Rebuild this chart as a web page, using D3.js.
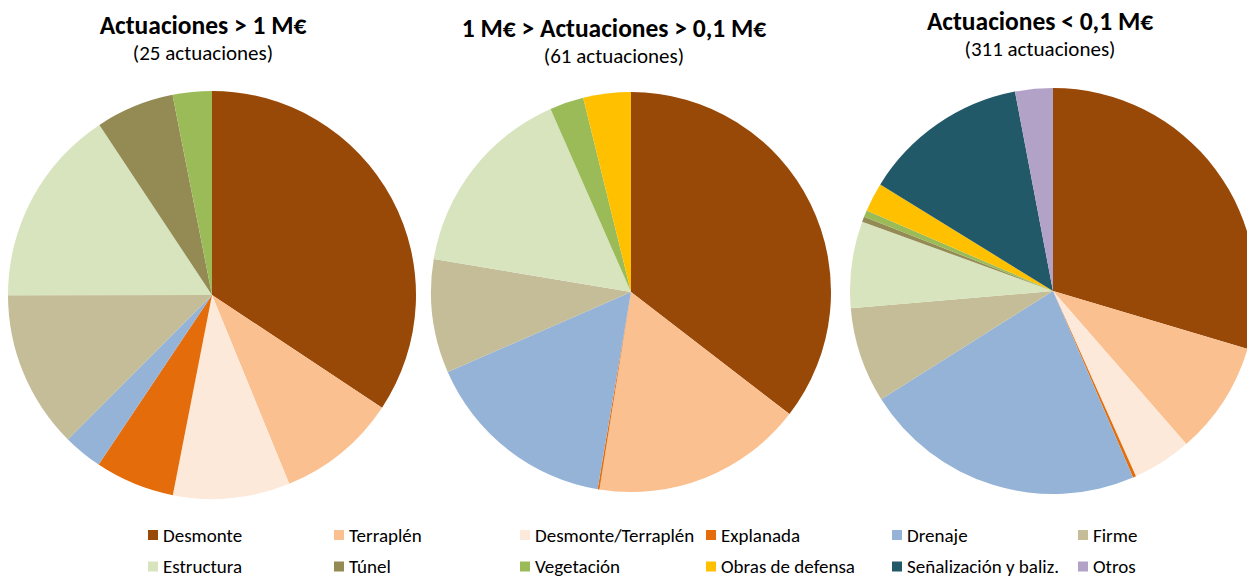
<!DOCTYPE html>
<html>
<head>
<meta charset="utf-8">
<script src="https://cdn.jsdelivr.net/npm/d3@7"></script>
<style>
  body { margin: 0; background: #fff; }
  svg { display: block; font-family: Calibri, Carlito, Lato, sans-serif; }
</style>
</head>
<body>
<div id="chart"></div>
<script>
// categories, in legend / slice order
var categories = ["Desmonte", "Terraplén", "Desmonte/Terraplén", "Explanada", "Drenaje", "Firme",
    "Estructura", "Túnel", "Vegetación", "Obras de defensa", "Señalización y baliz.", "Otros"];
var colors = ["#984807", "#FAC090", "#FDE9D9", "#E46C0A", "#95B3D7", "#C4BD97",
    "#D7E4BD", "#948A54", "#9BBB59", "#FFC000", "#215968", "#B3A2C7"];

// share of each category (%)
var valuesBig = [34.3, 9.5, 9.25, 6.3, 3.1, 12.5, 15.7, 6.2, 3.1, 0, 0, 0];
var valuesMid = [35.5, 17.1, 0, 0.15, 15.8, 9.2, 15.8, 0, 2.75, 3.85, 0, 0];
var valuesSmall = [29.6, 9.0, 4.7, 0.25, 22.5, 7.6, 6.9, 0.4, 0.55, 2.3, 13.2, 3.0];

var titles = ["Actuaciones > 1 M€", "1 M€ > Actuaciones > 0,1 M€", "Actuaciones < 0,1 M€"];
var subtitles = ["(25 actuaciones)", "(61 actuaciones)", "(311 actuaciones)"];

var width = 1247,
    height = 579;

// layout of the three pies
var pies = [
    { values: valuesBig, cx: 212, cy: 295, r: 204, tx: 203, ty: 34 },
    { values: valuesMid, cx: 631, cy: 292, r: 200, tx: 614, ty: 37 },
    { values: valuesSmall, cx: 1053, cy: 291, r: 203, tx: 1040, ty: 30 }
];

var svg = d3.select("#chart")
    .append("svg")
    .attr("width", width)
    .attr("height", height);

var color = d3.scaleOrdinal().domain(categories).range(colors);

var pie = d3.pie()
    .sort(null)
    .value(function (d) { return d.value; });

pies.forEach(function (p, i) {
    var data = categories.map(function (c, j) {
        return { name: c, value: p.values[j] };
    });
    var arc = d3.arc().innerRadius(0).outerRadius(p.r);

    var g = svg.append("g")
        .attr("transform", "translate(" + p.cx + "," + p.cy + ")");

    g.selectAll("path")
        .data(pie(data).filter(function (d) { return d.data.value > 0; }))
        .enter()
        .append("path")
        .attr("d", arc)
        .attr("fill", function (d) { return color(d.data.name); });

    // titles
    svg.append("text")
        .attr("x", p.tx)
        .attr("y", p.ty)
        .attr("text-anchor", "middle")
        .attr("font-weight", "bold")
        .attr("font-size", "25.5px")
        .attr("fill", "#000")
        .text(titles[i]);
    svg.append("text")
        .attr("x", p.tx)
        .attr("y", p.ty + 26)
        .attr("text-anchor", "middle")
        .attr("font-size", "21px")
        .attr("fill", "#000")
        .text(subtitles[i]);
});

// legend: 6 columns x 2 rows
var legend = svg.append("g");
var item = legend.selectAll("g")
    .data(categories)
    .enter()
    .append("g")
    .attr("transform", function (d, i) {
        return "translate(" + (148 + (i % 6) * 186) + "," + (530 + Math.floor(i / 6) * 31.5) + ")";
    });
item.append("rect")
    .attr("width", 10)
    .attr("height", 10)
    .attr("fill", function (d) { return color(d); });
item.append("text")
    .attr("x", 15)
    .attr("y", 11.5)
    .attr("font-size", "19px")
    .attr("fill", "#000")
    .text(function (d) { return d; });
</script>
</body>
</html>
